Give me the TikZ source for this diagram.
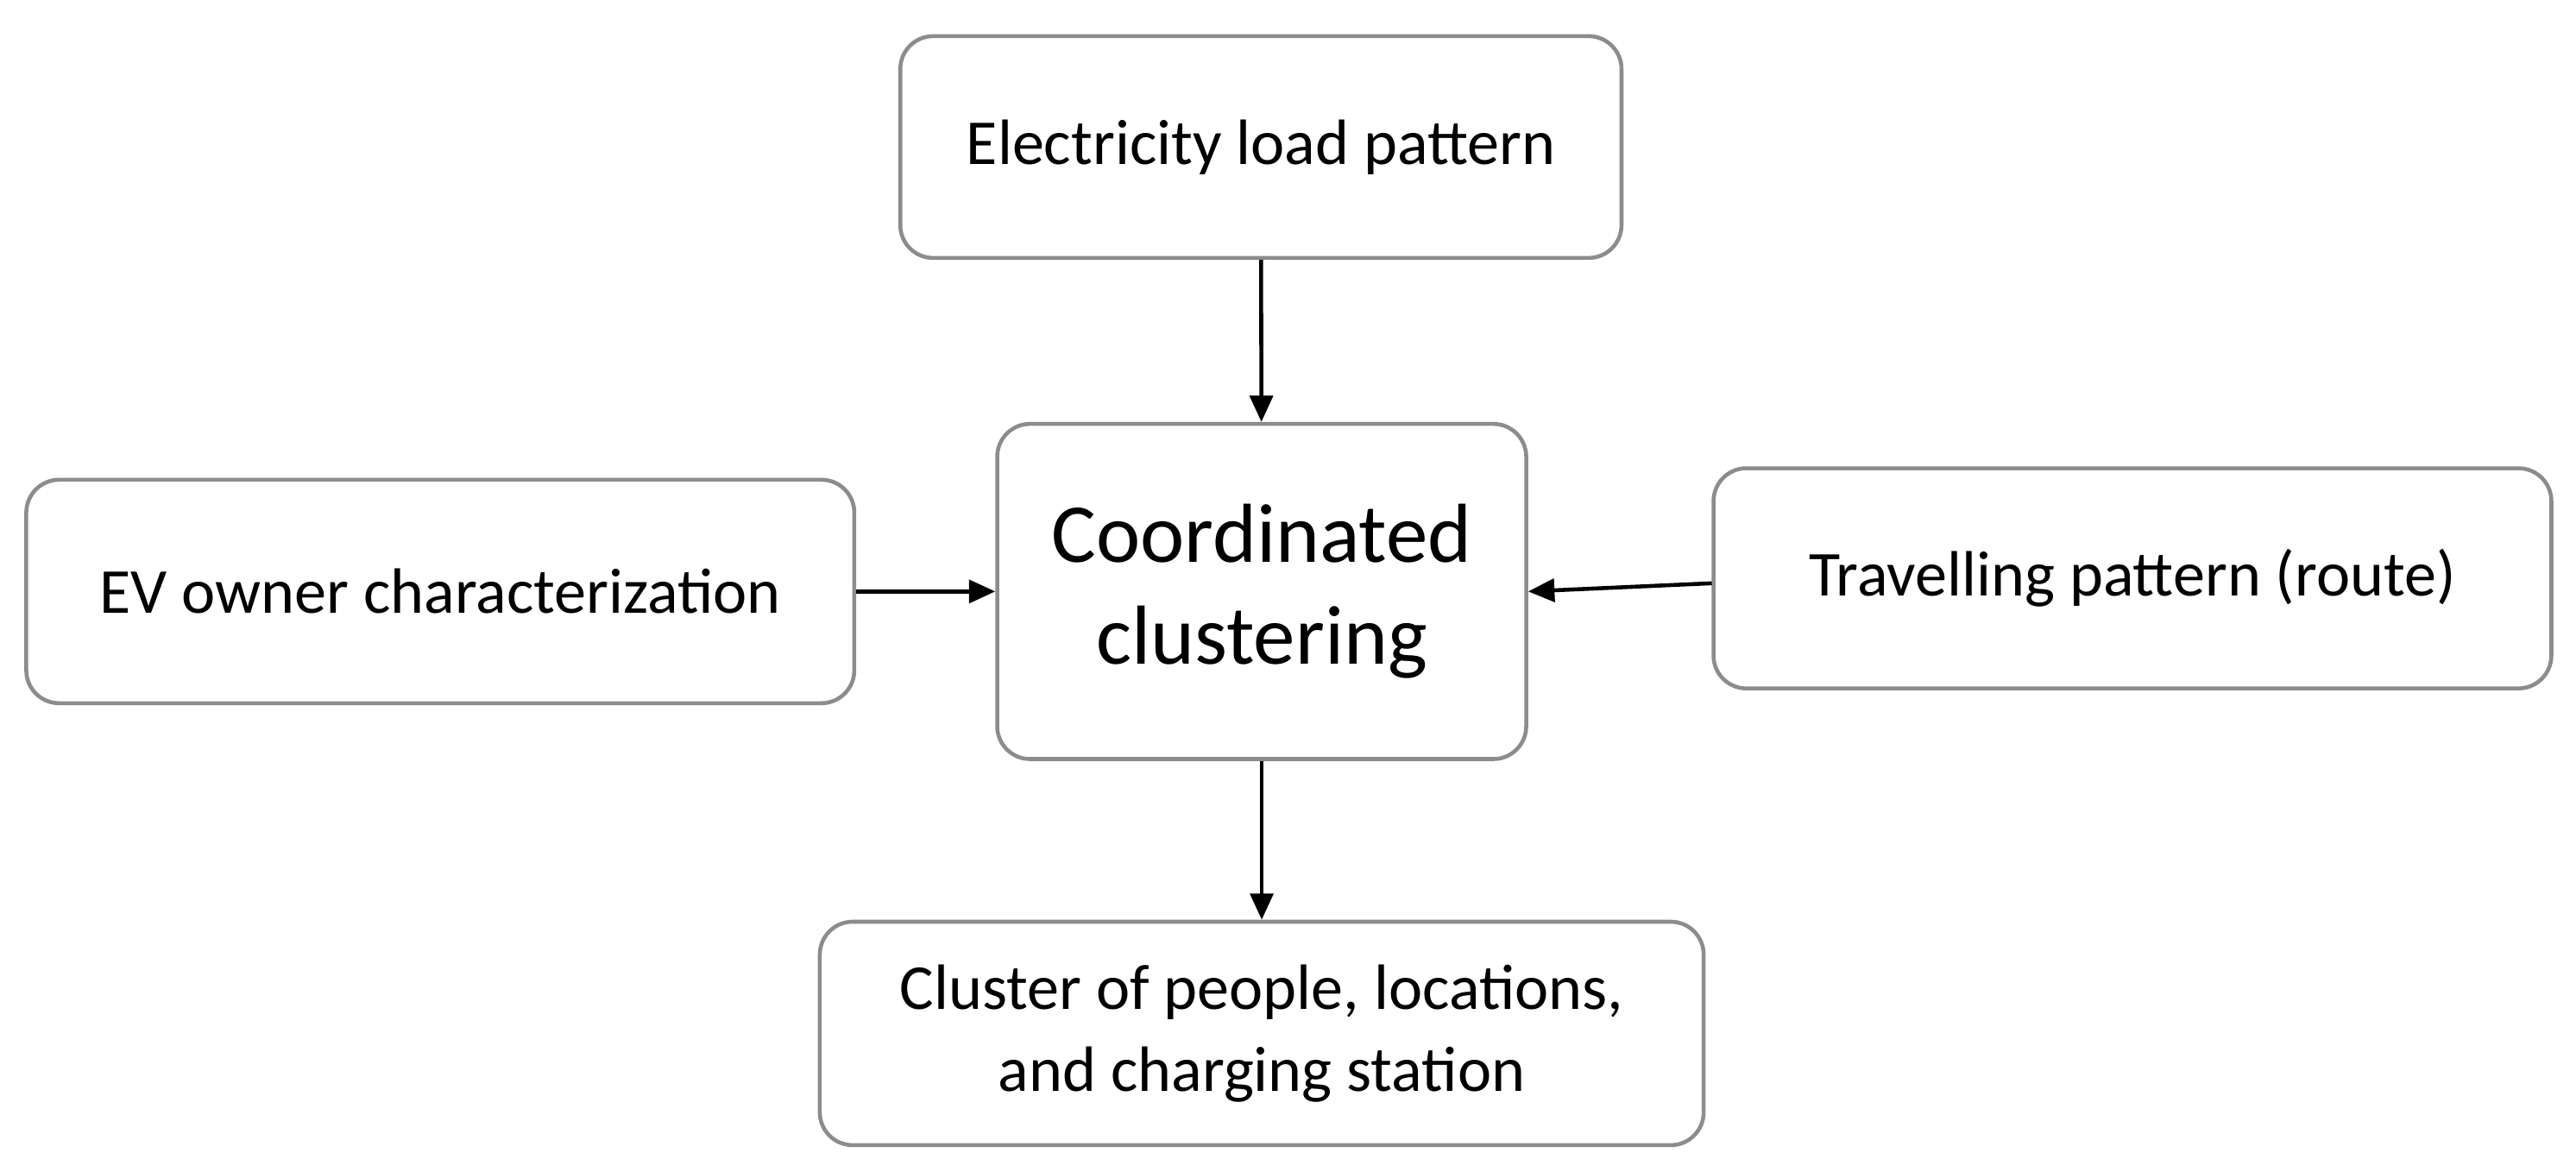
\documentclass[tikz,border=0pt]{standalone}
\usepackage{fontspec}
\setmainfont{Carlito}
\usetikzlibrary{arrows.meta}
\begin{document}
\begin{tikzpicture}[x=0.5pt,y=-0.5pt,
  box/.style={draw=black!45,line width=1.2pt,rounded corners=10pt,align=center,inner sep=0pt,font=\fontsize{19.5}{25}\selectfont},
  arr/.style={-{Triangle[length=8pt,width=7pt]},line width=1.2pt}]
\useasboundingbox (0,0) rectangle (1568,713);
\node[box,minimum width=219.5pt,minimum height=67.5pt] (top) at (767.5,89.5) {Electricity load pattern};
\node[box,minimum width=161pt,minimum height=102pt,font=\fontsize{25.5}{31}\selectfont] (c) at (768,360) {Coordinated\\clustering};
\node[box,minimum width=252pt,minimum height=68pt] (l) at (268,360) {EV owner characterization};
\node[box,minimum width=255pt,minimum height=67pt] (r) at (1298,352) {Travelling pattern (route)};
\node[box,minimum width=269pt,minimum height=68pt] (b) at (768,629) {Cluster of people, locations,\\and charging station};
\coordinate (rs) at (1042,355);
\draw[arr] (top) -- (c);
\draw[arr] (l) -- (c);
\draw[arr] (rs) -- (c.east);
\draw[arr] (c) -- (b);
\end{tikzpicture}
\end{document}
